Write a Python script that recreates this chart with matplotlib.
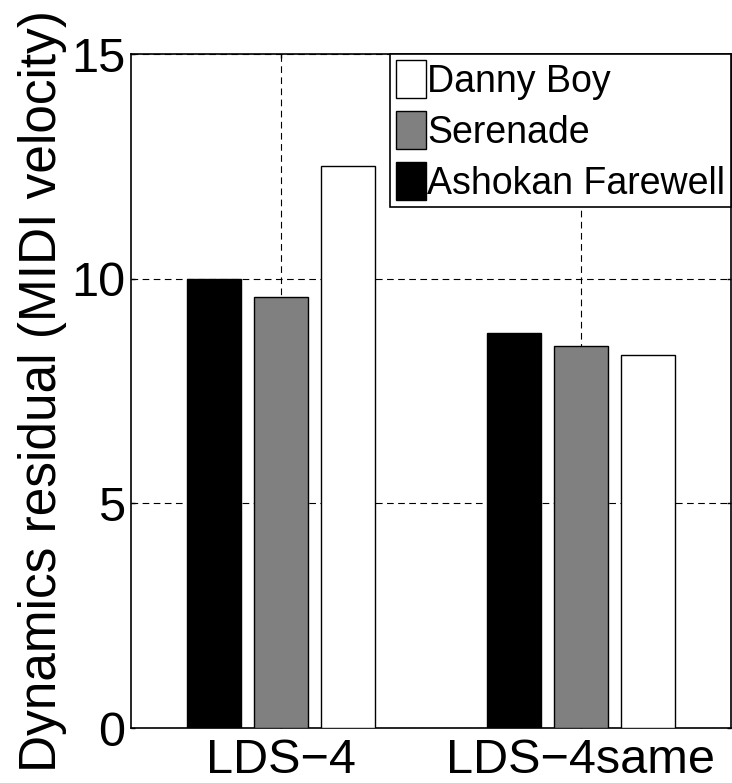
import numpy as np
import matplotlib.pyplot as plt

plt.rcParams['font.family'] = ['Liberation Sans', 'DejaVu Sans']

# data
groups = ["LDS\u22124", "LDS\u22124same"]
songs = ["Ashokan Farewell", "Serenade", "Danny Boy"]
colors = ["black", "#808080", "white"]
residuals = {
    "Ashokan Farewell": [10.0, 8.8],
    "Serenade": [9.6, 8.5],
    "Danny Boy": [12.5, 8.3],
}

fig = plt.figure(figsize=(7.32, 7.83), dpi=100)
ax = fig.add_axes([131 / 732, 55 / 783, 600 / 732, 674 / 783])

x = np.arange(1, len(groups) + 1)
offset = 0.222
width = 0.18
bars = {}
for i, song in enumerate(songs):
    bars[song] = ax.bar(x + (i - 1) * offset, residuals[song], width,
                        color=colors[i], edgecolor="black", linewidth=1.0,
                        zorder=3)

ax.set_xlim(0.5, 2.5)
ax.set_ylim(0, 15)
ax.set_yticks([0, 5, 10, 15])
ax.set_xticks(x)
ax.set_xticklabels(groups)
ax.tick_params(axis="both", labelsize=35, direction="in", length=3,
               width=1.0, top=True, right=True)
ax.tick_params(axis="y", pad=4)
ax.tick_params(axis="x", pad=7)
ax.set_ylabel("Dynamics residual (MIDI velocity)", fontsize=37, labelpad=3)

ax.grid(True, color="black", linestyle=(0, (6, 4)), linewidth=0.8, zorder=0)
ax.set_axisbelow(True)
for s in ax.spines.values():
    s.set_linewidth(1.2)

handles = [bars[s] for s in songs[::-1]]
leg = ax.legend(handles, songs[::-1], loc="upper right", fontsize=27,
                frameon=True, fancybox=False, edgecolor="black", framealpha=1,
                borderaxespad=0, handlelength=0.8, handleheight=1.2,
                handletextpad=0.05, labelspacing=0.3, borderpad=0.15)
leg.get_frame().set_linewidth(1.2)

fig.savefig("out.png", dpi=100)
